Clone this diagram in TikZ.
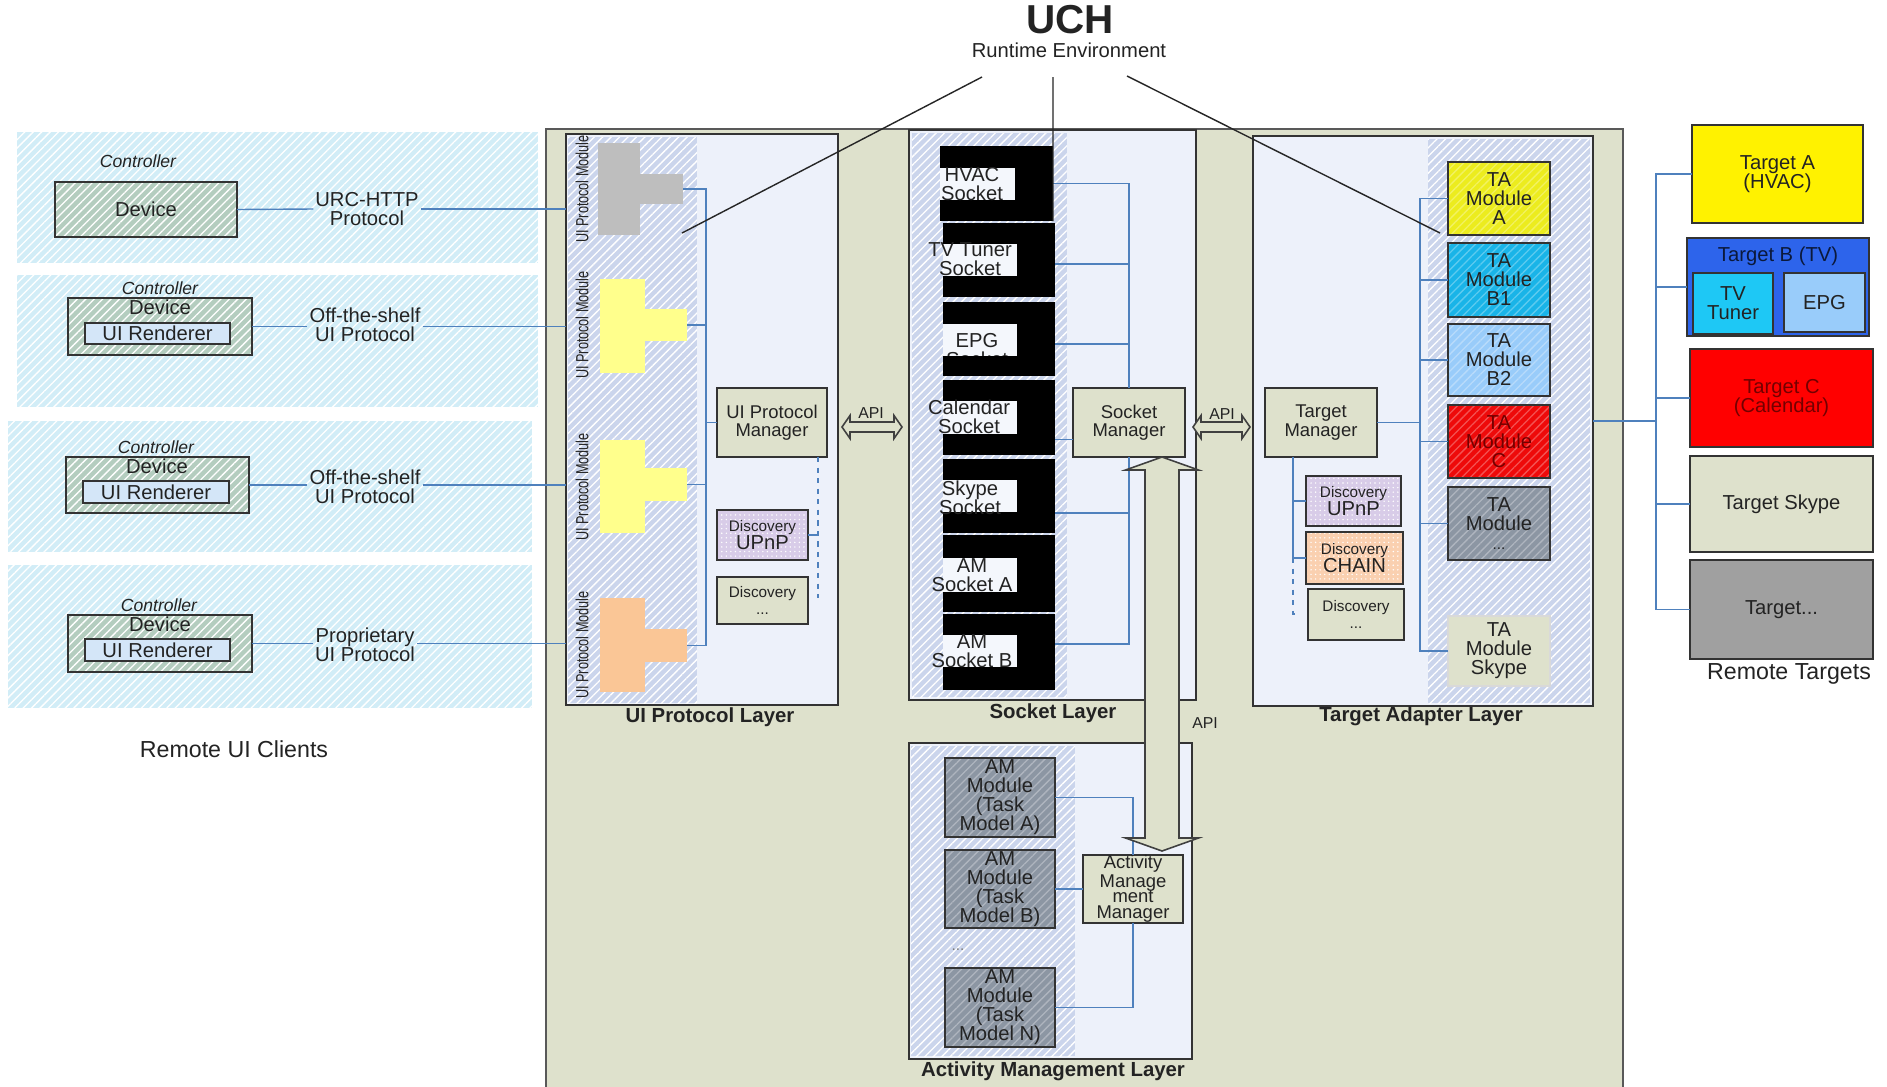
\documentclass[tikz,border=0pt]{standalone}
\usepackage{fontspec}
\setmainfont{Liberation Sans}
\usetikzlibrary{calc,patterns.meta}

\newlength{\ucpx}
\setlength{\ucpx}{0.02cm}

\definecolor{uchbg}{RGB}{222,225,204}
\definecolor{layerbg}{RGB}{237,241,250}
\definecolor{strip}{RGB}{203,213,236}
\definecolor{clientbg}{RGB}{210,237,247}
\definecolor{devfill}{RGB}{180,205,191}
\definecolor{rendfill}{RGB}{212,230,248}
\definecolor{linkblue}{RGB}{79,129,189}
\definecolor{txt}{RGB}{35,35,35}
\definecolor{tgray}{RGB}{190,190,190}
\definecolor{tyellow}{RGB}{255,255,140}
\definecolor{torange}{RGB}{250,198,150}
\definecolor{upnp}{RGB}{216,204,232}
\definecolor{chain}{RGB}{250,208,176}
\definecolor{amgray}{RGB}{140,150,163}
\definecolor{taA}{RGB}{236,236,30}
\definecolor{taB1}{RGB}{25,180,232}
\definecolor{taB2}{RGB}{153,204,250}
\definecolor{taC}{RGB}{238,10,10}
\definecolor{tvblue}{RGB}{45,100,235}
\definecolor{tvcyan}{RGB}{30,200,245}
\definecolor{tgX}{RGB}{160,160,160}

\newcommand{\lblfont}{\fontsize{11.5}{10.8}\selectfont}
\newcommand{\mgrfont}{\fontsize{10.5}{10.5}\selectfont}
\newcommand{\smlfont}{\fontsize{8.7}{9}\selectfont}
\newcommand{\layfont}{\fontsize{11.6}{12}\selectfont\bfseries}
\newcommand{\apifont}{\fontsize{9}{9}\selectfont}
\newcommand{\vertfont}{\fontsize{10}{10}\selectfont}

\tikzset{
  wh/.style 2 args={minimum width=#1\ucpx, minimum height=#2\ucpx},
  box/.style={draw=black!80, line width=1pt, inner sep=0pt, outer sep=0pt,
    anchor=north west, align=center, font=\lblfont, text=txt},
  layer/.style={box, fill=layerbg},
  tee/.style={inner sep=0pt, outer sep=0pt, anchor=north west},
  slot/.style={tee, fill=layerbg!60!white},
  hatched/.style={preaction={fill=#1}, pattern={Lines[angle=45,distance=3.4pt,line width=.75pt]}, pattern color=white},
  faint/.style={preaction={fill=#1}, pattern={Lines[angle=45,distance=3.4pt,line width=.75pt]}, pattern color=white!30!#1},
  dotty/.style={preaction={fill=#1}, pattern={Dots[distance=2.6pt,radius=.45pt]}, pattern color=white},
  lbl/.style={font=\lblfont, align=center, text=txt, inner sep=1pt},
  ctrl/.style={font=\fontsize{10}{10}\selectfont\itshape, text=txt},
  vert/.style={rotate=90, font=\vertfont, text=txt, inner sep=0pt},
  laytitle/.style={font=\layfont, text=txt},
  apilbl/.style={font=\apifont, text=txt},
  link/.style={draw=linkblue, line width=.8pt},
  apiarrow/.style={draw=black!75, fill=uchbg, line width=.9pt},
  pointer/.style={draw=black!85, line width=.8pt}
}

\begin{document}
\begin{tikzpicture}[x=\ucpx,y=-\ucpx]

\useasboundingbox (0,0) rectangle (1887,1086);
\fill[white] (0,0) rectangle (1887,1086);

% runtime frame and its layers
\node[box, fill=uchbg, draw=black!65, line width=1.2pt, wh={1077}{970}] (uch) at (546,129) {};

\node[font=\fontsize{23}{23}\selectfont\bfseries, text=txt, inner sep=0pt] (title) at (1070,20) {UCH};
\node[font=\fontsize{11.5}{12}\selectfont, text=txt, inner sep=0pt] (rte) at (1069,50) {Runtime Environment};

\node[layer, wh={272}{571}] (uil) at (566,134) {};
\path[hatched=strip] (568,137) rectangle (697,703);
\node[layer, wh={287}{570}] (sockl) at (909,130) {};
\path[hatched=strip] (912,133) rectangle (1067,697);
\node[layer, wh={340}{570}] (tal) at (1253,136) {};
\path[hatched=strip] (1428,139) rectangle (1590,703);
\node[layer, wh={283}{316}] (aml) at (909,743) {};
\path[hatched=strip] (911,746) rectangle (1075,1056);

\node[laytitle] (uilt) at (710,717) {UI Protocol Layer};
\node[laytitle] (sockt) at (1053,713) {Socket Layer};
\node[laytitle] (talt) at (1421,716) {Target Adapter Layer};
\node[laytitle] (amlt) at (1053,1071) {Activity Management Layer};

% remote UI clients
\path[hatched=clientbg] (17,132) rectangle (538,263);
\path[hatched=clientbg] (17,275) rectangle (538,407);
\path[hatched=clientbg] (8,421) rectangle (532,552);
\path[hatched=clientbg] (8,565) rectangle (532,708);

\node[ctrl] (ctl1) at (138,161) {Controller};
\node[box, hatched=devfill, wh={182}{55}] (dev1) at (55,182) {Device};
\node[lbl] (pr1) at (367,209) {URC-HTTP\\Protocol};

\node[ctrl] (ctl2) at (160,288) {Controller};
\node[box, hatched=devfill, wh={184}{57}] (dev2) at (68,298) {};
\node[lbl] (dev2t) at (160,307) {Device};
\node[box, fill=rendfill, line width=.9pt, wh={145}{21}] (ren2) at (85,323) {UI Renderer};
\node[lbl] (pr2) at (365,325) {Off-the-shelf\\UI Protocol};

\node[ctrl] (ctl3) at (156,447) {Controller};
\node[box, hatched=devfill, wh={183}{56}] (dev3) at (66,457) {};
\node[lbl] (dev3t) at (157,466) {Device};
\node[box, fill=rendfill, line width=.9pt, wh={146}{22}] (ren3) at (83,481) {UI Renderer};
\node[lbl] (pr3) at (365,487) {Off-the-shelf\\UI Protocol};

\node[ctrl] (ctl4) at (159,605) {Controller};
\node[box, hatched=devfill, wh={184}{57}] (dev4) at (68,615) {};
\node[lbl] (dev4t) at (160,624) {Device};
\node[box, fill=rendfill, line width=.9pt, wh={145}{22}] (ren4) at (85,639) {UI Renderer};
\node[lbl] (pr4) at (365,645) {Proprietary\\UI Protocol};

\node[lbl, font=\fontsize{13.2}{13.2}\selectfont] (ruic) at (234,749) {Remote UI Clients};

\draw[link] (dev1.east) -- (pr1.west);
\draw[link] (pr1.east) -- (pr1.east -| uil.west);
\draw[link] (dev2.east) -- (dev2.east -| pr2.west);
\draw[link] (dev2.east -| pr2.east) -- (dev2.east -| uil.west);
\draw[link] (dev3.east) -- (dev3.east -| pr3.west);
\draw[link] (dev3.east -| pr3.east) -- (dev3.east -| uil.west);
\draw[link] (dev4.east) -- (dev4.east -| pr4.west);
\draw[link] (dev4.east -| pr4.east) -- (dev4.east -| uil.west);

% UI protocol layer
\node[vert] (m1) at (582,189) {\scalebox{.72}[1]{UI Protocol Module}};
\node[vert] (m2) at (582,325) {\scalebox{.72}[1]{UI Protocol Module}};
\node[vert] (m3) at (582,487) {\scalebox{.72}[1]{UI Protocol Module}};
\node[vert] (m4) at (582,645) {\scalebox{.72}[1]{UI Protocol Module}};

\node[tee, fill=tgray, wh={42}{92}] (t1) at (598,143) {};
\node[tee, fill=tgray, wh={43}{30}] (t1a) at (640,174) {};
\node[tee, fill=tyellow, wh={45}{94}] (t2) at (600,279) {};
\node[tee, fill=tyellow, wh={42}{32}] (t2a) at (645,309) {};
\node[tee, fill=tyellow, wh={45}{93}] (t3) at (600,440) {};
\node[tee, fill=tyellow, wh={42}{33}] (t3a) at (645,468) {};
\node[tee, fill=torange, wh={45}{94}] (t4) at (600,598) {};
\node[tee, fill=torange, wh={42}{33}] (t4a) at (645,629) {};

\node[box, fill=uchbg, wh={110}{69}, font=\mgrfont] (uipm) at (717,388) {UI Protocol\\Manager};
\node[box, dotty=upnp, line width=.9pt, wh={91}{50}] (ud1) at (717,510) {{\smlfont Discovery}\\[-1pt]UPnP};
\node[box, fill=uchbg, line width=.9pt, wh={91}{47}] (ud2) at (717,577) {{\smlfont Discovery}\\[-1pt]{\smlfont ...}};

\coordinate (uibus) at (706,422.5);
\draw[link] (t1a.east) -| (uibus);
\draw[link] (t2a.east) -| (uibus);
\draw[link] (t3a.east) -| (uibus);
\draw[link] (t4a.east) -| (uibus) -- (uipm.west);

\coordinate (uid) at (818,598);
\draw[link, dashed] (uipm.south -| uid) -- (uid);
\draw[link] (ud1.east) -- (ud1.east -| uid);

% socket layer
\node[tee, fill=black, wh={113}{75}] (hvac) at (940,146) {};
\node[slot, wh={75}{32}] (hvacl) at (940,168) {};
\node[lbl] (hvact) at (972,184) {HVAC\\Socket};

\node[tee, fill=black, wh={112}{74}] (tvt) at (943,223) {};
\node[slot, wh={74}{32}] (tvtl) at (943,244) {};
\node[lbl] (tvtt) at (970,259) {TV Tuner\\Socket};

\node[tee, fill=black, wh={112}{74}] (epg) at (943,302) {};
\node[slot, wh={74}{32}] (epgl) at (943,324) {};
\node[lbl] (epgt) at (977,350) {EPG\\Socket};
\fill[black] (epgl.south west) rectangle (epgl.south east |- epg.south);

\node[tee, fill=black, wh={112}{75}] (cal) at (943,380) {};
\node[slot, wh={74}{33}] (call) at (943,401) {};
\node[lbl] (calt) at (969,417) {Calendar\\Socket};

\node[tee, fill=black, wh={112}{74}] (skp) at (943,459) {};
\node[slot, wh={74}{32}] (skpl) at (943,480) {};
\node[lbl] (skpt) at (970,498) {Skype\\Socket};

\node[tee, fill=black, wh={112}{77}] (ama) at (943,535) {};
\node[slot, wh={74}{34}] (amal) at (943,558) {};
\node[lbl] (amat) at (972,575) {AM\\Socket A};

\node[tee, fill=black, wh={112}{76}] (amb) at (943,614) {};
\node[slot, wh={74}{32}] (ambl) at (943,635) {};
\node[lbl] (ambt) at (972,651) {AM\\Socket B};

\node[box, fill=uchbg, wh={112}{69}, font=\mgrfont] (smgr) at (1073,388) {Socket\\Manager};

\draw[link] (hvac.east) -| (smgr.north);
\draw[link] ([yshift=-4\ucpx]tvt.east) -| (smgr.north);
\draw[link] ([yshift=-5\ucpx]epg.east) -| (smgr.north);
\draw[link] ([yshift=-22\ucpx]cal.east) -- ([yshift=-22\ucpx]cal.east -| smgr.west);
\draw[link] ([yshift=-17\ucpx]skp.east) -| (smgr.south);
\draw[link] ([yshift=8\ucpx]amb.east) -| (smgr.south);

% target adapter layer
\node[box, fill=uchbg, wh={112}{69}, font=\mgrfont] (tam) at (1265,388) {Target\\Manager};

\node[box, faint=taA, wh={102}{73}] (taA) at (1448,162) {TA\\Module\\A};
\node[box, faint=taB1, wh={102}{74}] (taB1) at (1448,243) {TA\\Module\\B1};
\node[box, faint=taB2, wh={102}{72}] (taB2) at (1448,324) {TA\\Module\\B2};
\node[box, faint=taC, text=red!45!black, wh={102}{73}] (taC) at (1448,405) {TA\\Module\\C};
\node[box, faint=amgray, wh={102}{73}] (taX) at (1448,487) {TA\\Module\\{\smlfont ...}};
\node[box, fill=uchbg, draw=black!15, wh={102}{70}] (taS) at (1448,616) {TA\\Module\\Skype};

\coordinate (tabus) at (1420,422.5);
\draw[link] (tam.east) -- (tabus);
\draw[link] (taA.west) -| (tabus);
\draw[link] (taB1.west) -| (tabus);
\draw[link] (taB2.west) -| (tabus);
\draw[link] (taC.west) -| (tabus);
\draw[link] (taX.west) -| (tabus);
\draw[link] (taS.west) -| (tabus);

\node[box, dotty=upnp, line width=.9pt, wh={95}{50}] (tdu) at (1306,476) {{\smlfont Discovery}\\[-1pt]UPnP};
\node[box, dotty=chain, line width=.9pt, wh={97}{52}] (tdc) at (1306,532) {{\smlfont Discovery}\\[-1pt]CHAIN};
\node[box, fill=uchbg, line width=.9pt, wh={96}{51}] (tdx) at (1308,589) {{\smlfont Discovery}\\[-1pt]{\smlfont ...}};

\coordinate (tad) at (1293,614);
\draw[link] (tam.south -| tad) -- (tdc.west -| tad);
\draw[link, dashed] (tdc.west -| tad) -- (tad) -- ++(6,0);
\draw[link] (tdu.west) -- (tdu.west -| tad);
\draw[link] (tdc.west) -- (tdc.west -| tad);

% activity management layer
\node[box, faint=amgray, wh={110}{79}] (amA) at (945,758) {AM\\Module\\(Task\\Model A)};
\node[box, faint=amgray, wh={110}{78}] (amB) at (945,850) {AM\\Module\\(Task\\Model B)};
\node[lbl, font=\smlfont, text=txt!60] (amdots) at (958,950) {...};
\node[box, faint=amgray, wh={110}{79}] (amN) at (945,968) {AM\\Module\\(Task\\Model N)};

\node[box, fill=uchbg, wh={100}{68}, font=\fontsize{10.5}{9}\selectfont] (amm) at (1083,855) {Activity\\Manage\\ment\\Manager};

\draw[link] (amA.east) -| (amm.north);
\draw[link] (amB.east) -- (amB.east -| amm.west);
\draw[link] (amN.east) -| (amm.south);

% remote targets
\node[box, fill=yellow, wh={171}{98}] (tgA) at (1692,125) {Target A\\(HVAC)};
\node[box, fill=tvblue, wh={182}{98}] (tgB) at (1687,238) {};
\node[lbl, text=tvblue!25!black] (tgBt) at (1778,256) {Target B (TV)};
\node[box, fill=tvcyan, wh={80}{61}] (tgtv) at (1693,273) {TV\\Tuner};
\node[box, fill=taB2, wh={81}{59}] (tgepg) at (1784,273) {EPG};
\node[box, fill=red, text=red!45!black, wh={183}{98}] (tgC) at (1690,349) {Target C\\(Calendar)};
\node[box, fill=uchbg, wh={183}{96}] (tgS) at (1690,456) {Target Skype};
\node[box, fill=tgX, wh={183}{99}] (tgX) at (1690,560) {Target...};
\node[lbl, font=\fontsize{13.2}{13.2}\selectfont] (rtg) at (1789,674) {Remote Targets};

\coordinate (tgbus) at (1656,421);
\draw[link] (tal.east) -- (tgbus);
\draw[link] (tgA.west) -| (tgbus);
\draw[link] (tgB.west) -| (tgbus);
\draw[link] (tgC.west) -| (tgbus);
\draw[link] (tgS.west) -| (tgbus);
\draw[link] (tgX.west) -| (tgbus);

% API arrows
\coordinate (a1l) at (842,427);
\coordinate (a1r) at (902,427);
\draw[apiarrow] (a1l) -- ($(a1l)+(8,-11.5)$) -- ($(a1l)+(8,-5)$) -- ($(a1r)+(-8,-5)$) -- ($(a1r)+(-8,-11.5)$) -- (a1r)
  -- ($(a1r)+(-8,11.5)$) -- ($(a1r)+(-8,5)$) -- ($(a1l)+(8,5)$) -- ($(a1l)+(8,11.5)$) -- cycle;
\node[apilbl] (api1) at (871,413) {API};

\coordinate (a2l) at (1193,427);
\coordinate (a2r) at (1250,427);
\draw[apiarrow] (a2l) -- ($(a2l)+(8,-11.5)$) -- ($(a2l)+(8,-5)$) -- ($(a2r)+(-8,-5)$) -- ($(a2r)+(-8,-11.5)$) -- (a2r)
  -- ($(a2r)+(-8,11.5)$) -- ($(a2r)+(-8,5)$) -- ($(a2l)+(8,5)$) -- ($(a2l)+(8,11.5)$) -- cycle;
\node[apilbl] (api2) at (1222,414) {API};

\coordinate (a3t) at (1162,457);
\coordinate (a3b) at (1162,851);
\draw[apiarrow] (a3t) -- ($(a3t)+(36.5,13)$) -- ($(a3t)+(17,13)$) -- ($(a3b)+(17,-13)$) -- ($(a3b)+(36.5,-13)$) -- (a3b)
  -- ($(a3b)+(-36.5,-13)$) -- ($(a3b)+(-17,-13)$) -- ($(a3t)+(-17,13)$) -- ($(a3t)+(-36.5,13)$) -- cycle;
\node[apilbl] (api3) at (1205,723) {API};

% pointers from the title
\coordinate (p1) at (982,77);
\coordinate (p1e) at (682,233);
\coordinate (p2) at (1053,77);
\coordinate (p3) at (1127,76);
\coordinate (p3e) at (1440,233);
\draw[pointer] (p1) -- (p1e);
\draw[pointer] (p2) -- (hvac.south east);
\draw[pointer] (p3) -- (p3e);

\end{tikzpicture}
\end{document}
